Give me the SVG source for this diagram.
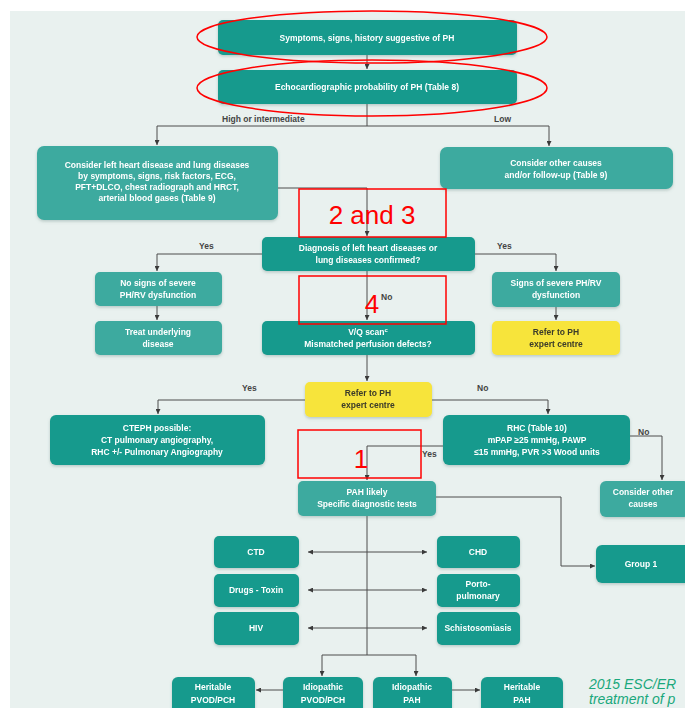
<svg xmlns="http://www.w3.org/2000/svg" width="685" height="708" viewBox="0 0 685 708">
  <defs>
    <style>
      .bg { fill: #e9f1ef; }
      .dk { fill: #139a8d; }
      .lt { fill: #3daa9f; }
      .yl { fill: #f7e43a; }
      .t { font-family: "Liberation Sans", Arial, sans-serif; font-size: 8.5px; font-weight: bold; fill: #ffffff; text-anchor: middle; }
      .ty { font-family: "Liberation Sans", Arial, sans-serif; font-size: 8.5px; font-weight: bold; fill: #3a3a2a; text-anchor: middle; }
      .lab { font-family: "Liberation Sans", Arial, sans-serif; font-size: 8.5px; font-weight: bold; fill: #444444; }
      .con { fill: none; stroke: #4d4d4d; stroke-width: 1; }
      .red { fill: none; stroke: #ff0000; stroke-width: 1.5; }
      .rt { font-family: "Liberation Sans", Arial, sans-serif; fill: #ff0000; text-anchor: middle; }
      .src { font-family: "Liberation Sans", Arial, sans-serif; font-size: 14px; font-style: italic; fill: #1aa87c; }
    </style>
    <filter id="sh" x="-10%" y="-20%" width="120%" height="150%">
      <feDropShadow dx="0" dy="1.5" stdDeviation="1.5" flood-color="#5f7f78" flood-opacity="0.35"/>
    </filter>
    <marker id="ah" viewBox="0 0 6 6" refX="6" refY="3" markerWidth="5" markerHeight="5" orient="auto-start-reverse" markerUnits="userSpaceOnUse">
      <path d="M0,0 L6,3 L0,6 z" fill="#3a3a3a"/>
    </marker>
  </defs>

  <!-- page background -->
  <rect x="0" y="0" width="685" height="708" fill="#ffffff"/>
  <rect class="bg" x="10" y="11" width="675" height="697"/>

  <!-- connectors -->
  <g id="connectors">
    <path class="con" d="M367,55 V69" marker-end="url(#ah)"/>
    <path class="con" d="M367,104 V126 H157 V145" marker-end="url(#ah)"/>
    <path class="con" d="M367,126 H549 V146" marker-end="url(#ah)"/>
    <path class="con" d="M278,188 H367 V236" marker-end="url(#ah)"/>
    <path class="con" d="M262,254 H157 V271" marker-end="url(#ah)"/>
    <path class="con" d="M475,254 H556 V271" marker-end="url(#ah)"/>
    <path class="con" d="M367,271 V320" marker-end="url(#ah)"/>
    <path class="con" d="M157,306 V320" marker-end="url(#ah)"/>
    <path class="con" d="M556,307 V320" marker-end="url(#ah)"/>
    <path class="con" d="M367,355 V381" marker-end="url(#ah)"/>
    <path class="con" d="M305,400 H158 V414" marker-end="url(#ah)"/>
    <path class="con" d="M432,400 H548 V414" marker-end="url(#ah)"/>
    <path class="con" d="M630,436 H662 V480" marker-end="url(#ah)"/>
    <path class="con" d="M443,446 H367 V480" marker-end="url(#ah)"/>
    <path class="con" d="M436,497 H561 V566 H595" marker-end="url(#ah)"/>
    <path class="con" d="M367,516 V655"/>
    <path class="con" d="M322,655 H416"/>
    <path class="con" d="M322,655 V676" marker-end="url(#ah)"/>
    <path class="con" d="M416,655 V676" marker-end="url(#ah)"/>
    <path class="con" d="M308,552 H427" marker-start="url(#ah)" marker-end="url(#ah)"/>
    <path class="con" d="M308,590 H427" marker-start="url(#ah)" marker-end="url(#ah)"/>
    <path class="con" d="M308,628 H427" marker-start="url(#ah)" marker-end="url(#ah)"/>
    <path class="con" d="M283,690 H256" marker-end="url(#ah)"/>
    <path class="con" d="M452,690 H480" marker-end="url(#ah)"/>
    <text class="lab" x="222" y="122">High or intermediate</text>
    <text class="lab" x="494" y="122">Low</text>
    <text class="lab" x="199" y="249">Yes</text>
    <text class="lab" x="497" y="249">Yes</text>
    <text class="lab" x="381" y="300">No</text>
    <text class="lab" x="242" y="391">Yes</text>
    <text class="lab" x="477" y="391">No</text>
    <text class="lab" x="638" y="435">No</text>
    <text class="lab" x="422" y="457">Yes</text>
  </g>

  <!-- nodes -->
  <g id="symptoms" filter="url(#sh)">
    <rect class="dk" x="218" y="20" width="299" height="35" rx="5"/>
    <text class="t" x="367" y="40.5">Symptoms, signs, history suggestive of PH</text>
  </g>
  <g id="echo" filter="url(#sh)">
    <rect class="dk" x="218" y="70" width="299" height="34" rx="5"/>
    <text class="t" x="367" y="90">Echocardiographic probability of PH (Table 8)</text>
  </g>
  <g id="consider-lhd" filter="url(#sh)">
    <rect class="lt" x="37" y="146" width="241" height="74" rx="7"/>
    <text class="t" x="157" y="168">Consider left heart disease and lung diseases</text>
    <text class="t" x="157" y="179">by symptoms, signs, risk factors, ECG,</text>
    <text class="t" x="157" y="190">PFT+DLCO, chest radiograph and HRCT,</text>
    <text class="t" x="157" y="201">arterial blood gases (Table 9)</text>
  </g>
  <g id="consider-other" filter="url(#sh)">
    <rect class="lt" x="440" y="147" width="233" height="42" rx="7"/>
    <text class="t" x="556" y="165.5">Consider other causes</text>
    <text class="t" x="556" y="177.5">and/or follow-up (Table 9)</text>
  </g>
  <g id="diagnosis" filter="url(#sh)">
    <rect class="dk" x="262" y="237" width="213" height="34" rx="5"/>
    <text class="t" x="368" y="251">Diagnosis of left heart diseases or</text>
    <text class="t" x="368" y="263">lung diseases confirmed?</text>
  </g>
  <g id="no-signs" filter="url(#sh)">
    <rect class="lt" x="95" y="272" width="127" height="34" rx="5"/>
    <text class="t" x="158" y="286">No signs of severe</text>
    <text class="t" x="158" y="298">PH/RV dysfunction</text>
  </g>
  <g id="signs" filter="url(#sh)">
    <rect class="lt" x="492" y="272" width="128" height="35" rx="5"/>
    <text class="t" x="556" y="286">Signs of severe PH/RV</text>
    <text class="t" x="556" y="298">dysfunction</text>
  </g>
  <g id="treat" filter="url(#sh)">
    <rect class="lt" x="95" y="321" width="127" height="34" rx="5"/>
    <text class="t" x="158" y="335">Treat underlying</text>
    <text class="t" x="158" y="347">disease</text>
  </g>
  <g id="vq-scan" filter="url(#sh)">
    <rect class="dk" x="262" y="321" width="213" height="34" rx="5"/>
    <text class="t" x="368" y="335">V/Q scan<tspan font-size="6" dy="-3">c</tspan></text>
    <text class="t" x="368" y="347">Mismatched perfusion defects?</text>
  </g>
  <g id="refer-1" filter="url(#sh)">
    <rect class="yl" x="492" y="321" width="128" height="34" rx="5"/>
    <text class="ty" x="556" y="335">Refer to PH</text>
    <text class="ty" x="556" y="347">expert centre</text>
  </g>
  <g id="refer-2" filter="url(#sh)">
    <rect class="yl" x="305" y="382" width="127" height="35" rx="5"/>
    <text class="ty" x="368" y="396">Refer to PH</text>
    <text class="ty" x="368" y="408">expert centre</text>
  </g>
  <g id="cteph" filter="url(#sh)">
    <rect class="dk" x="50" y="415" width="215" height="50" rx="6"/>
    <text class="t" x="157" y="431">CTEPH possible:</text>
    <text class="t" x="157" y="443">CT pulmonary angiography,</text>
    <text class="t" x="157" y="455">RHC +/- Pulmonary Angiography</text>
  </g>
  <g id="rhc" filter="url(#sh)">
    <rect class="dk" x="443" y="415" width="187" height="50" rx="6"/>
    <text class="t" x="537" y="431">RHC (Table 10)</text>
    <text class="t" x="537" y="443">mPAP ≥25 mmHg, PAWP</text>
    <text class="t" x="537" y="455">≤15 mmHg, PVR &gt;3 Wood units</text>
  </g>
  <g id="pah-likely" filter="url(#sh)">
    <rect class="lt" x="298" y="481" width="138" height="35" rx="5"/>
    <text class="t" x="367" y="495">PAH likely</text>
    <text class="t" x="367" y="507">Specific diagnostic tests</text>
  </g>
  <g id="other-causes" filter="url(#sh)">
    <rect class="lt" x="600" y="481" width="90" height="36" rx="6"/>
    <text class="t" x="643" y="495">Consider other</text>
    <text class="t" x="643" y="507">causes</text>
  </g>
  <g id="group1" filter="url(#sh)">
    <rect class="dk" x="596" y="545" width="95" height="38" rx="6"/>
    <text class="t" x="641" y="567">Group 1</text>
  </g>
  <g id="ctd" filter="url(#sh)">
    <rect class="dk" x="214" y="536" width="85" height="32" rx="5"/>
    <text class="t" x="256" y="555">CTD</text>
  </g>
  <g id="chd" filter="url(#sh)">
    <rect class="dk" x="437" y="536" width="83" height="32" rx="5"/>
    <text class="t" x="478" y="555">CHD</text>
  </g>
  <g id="drugs" filter="url(#sh)">
    <rect class="dk" x="214" y="574" width="85" height="33" rx="5"/>
    <text class="t" x="256" y="593">Drugs - Toxin</text>
  </g>
  <g id="porto" filter="url(#sh)">
    <rect class="dk" x="437" y="574" width="83" height="33" rx="5"/>
    <text class="t" x="478" y="587">Porto-</text>
    <text class="t" x="478" y="599">pulmonary</text>
  </g>
  <g id="hiv" filter="url(#sh)">
    <rect class="dk" x="214" y="612" width="85" height="33" rx="5"/>
    <text class="t" x="256" y="631">HIV</text>
  </g>
  <g id="schisto" filter="url(#sh)">
    <rect class="dk" x="437" y="612" width="83" height="33" rx="5"/>
    <text class="t" x="478" y="631">Schistosomiasis</text>
  </g>
  <g id="heritable-pvod" filter="url(#sh)">
    <rect class="dk" x="172" y="677" width="83" height="40" rx="6"/>
    <text class="t" x="213" y="690">Heritable</text>
    <text class="t" x="213" y="703">PVOD/PCH</text>
  </g>
  <g id="idiopathic-pvod" filter="url(#sh)">
    <rect class="dk" x="283" y="677" width="80" height="40" rx="6"/>
    <text class="t" x="323" y="690">Idiopathic</text>
    <text class="t" x="323" y="703">PVOD/PCH</text>
  </g>
  <g id="idiopathic-pah" filter="url(#sh)">
    <rect class="dk" x="373" y="677" width="79" height="40" rx="6"/>
    <text class="t" x="412" y="690">Idiopathic</text>
    <text class="t" x="412" y="703">PAH</text>
  </g>
  <g id="heritable-pah" filter="url(#sh)">
    <rect class="dk" x="481" y="677" width="82" height="40" rx="6"/>
    <text class="t" x="522" y="690">Heritable</text>
    <text class="t" x="522" y="703">PAH</text>
  </g>

  <!-- source note -->
  <text class="src" x="589" y="689">2015 ESC/ER</text>
  <text class="src" x="589" y="704">treatment of p</text>

  <!-- red markup -->
  <g id="markup">
    <ellipse class="red" cx="372" cy="37" rx="175" ry="26"/>
    <ellipse class="red" cx="372" cy="88" rx="175" ry="28"/>
    <rect class="red" x="299" y="189" width="147" height="48"/>
    <text class="rt" x="372" y="224" font-size="26">2 and 3</text>
    <rect class="red" x="299" y="276" width="147" height="48"/>
    <text class="rt" x="372" y="313" font-size="26">4</text>
    <rect class="red" x="298" y="430" width="123" height="48"/>
    <text class="rt" x="361" y="468" font-size="26">1</text>
  </g>
</svg>
